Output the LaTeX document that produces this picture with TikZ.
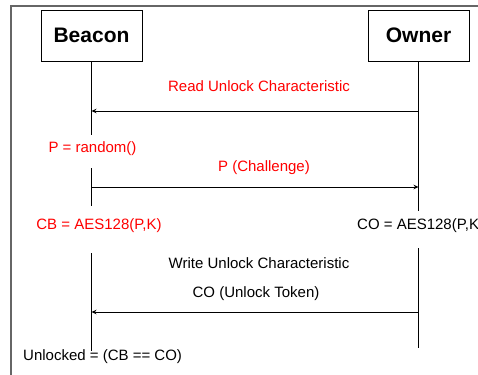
\documentclass[tikz,border=0pt]{standalone}
\usepackage{fontspec}
\setmainfont{Liberation Sans}
\usetikzlibrary{arrows.meta,positioning}
\begin{document}
\begin{tikzpicture}[x=1pt, y=-1pt,
actor/.style={draw, line width=0.8pt, minimum width=101pt, minimum height=51pt,
  font=\fontsize{21}{24}\selectfont\bfseries},
life/.style={line width=0.8pt},
msg/.style={line width=0.8pt, -{Stealth[length=5pt,width=4.5pt]}},
lbl/.style={font=\fontsize{15}{18}\selectfont, inner sep=0pt},
redlbl/.style={lbl, text=red}]
\useasboundingbox (0,0) rectangle (478,374);
% frame
\draw[black!60, line width=1.5pt] (11,376) -- (11,6) -- (480,6);
% actors
\node[actor] (beacon) at (91.5,35.5) {Beacon};
\node[actor] (owner) at (418.5,35.5) {Owner};
% rows
\coordinate (r1) at (0,111);
\coordinate (r2) at (0,187);
\coordinate (r3) at (0,312);
% lifelines
\draw[life] (beacon.south) -- (beacon |- 0,135);
\draw[life] (beacon |- 0,168) -- (beacon |- 0,206);
\draw[life] (beacon |- 0,253) -- (beacon |- 0,351);
\draw[life] (owner.south) -- (owner |- 0,211);
\draw[life] (owner |- 0,248) -- (owner |- 0,348);
% messages
\node[redlbl] (read) at (259,86) {Read Unlock Characteristic};
\draw[msg] (owner |- r1) -- (beacon |- r1);
\node[redlbl] (rand) at (92.5,149) {P = random()};
\node[redlbl] (chal) at (264,168) {P (Challenge)};
\draw[msg] (beacon |- r2) -- (owner |- r2);
\node[redlbl] (cb) at (99,226) {CB = AES128(P,K)};
\node[lbl, anchor=west] (co) at (357,226) {CO = AES128(P,K)};
\node[lbl] (write) at (259,263) {Write Unlock Characteristic};
\node[lbl] (token) at (256,294) {CO (Unlock Token)};
\draw[msg] (owner |- r3) -- (beacon |- r3);
\node[lbl, anchor=west] (res) at (23,357) {Unlocked = (CB == CO)};
\end{tikzpicture}
\end{document}
